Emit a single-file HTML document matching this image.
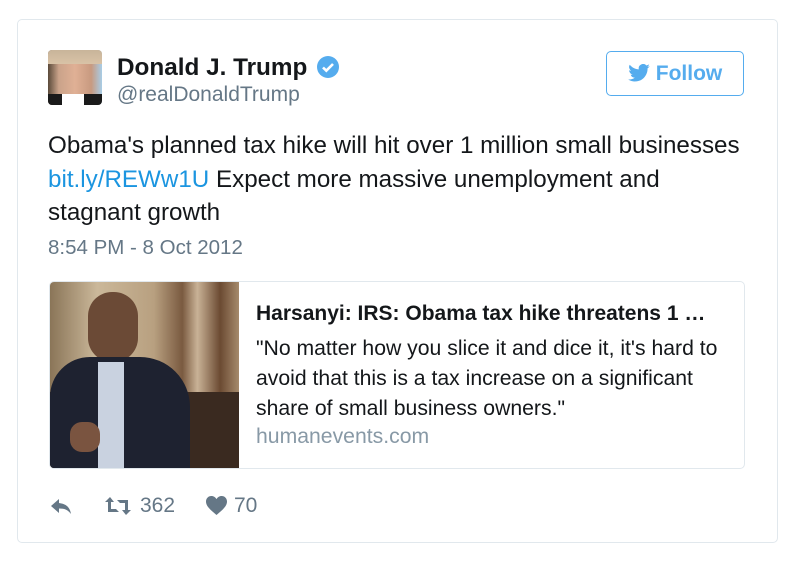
<!DOCTYPE html>
<html><head><meta charset="utf-8"><style>
body{margin:0;width:799px;height:567px;background:#fff;font-family:"Liberation Sans",sans-serif;position:relative;overflow:hidden}
.a{position:absolute;white-space:nowrap}
</style></head><body>
<div class="a" style="left:17px;top:19px;width:759px;height:522px;border:1px solid #e1e8ed;border-radius:5px"></div>
<div class="a" style="left:48px;top:50px;width:54px;height:55px;border-radius:4px;overflow:hidden;background:linear-gradient(90deg,#5a4a3a 0%,#caa38a 20%,#e0b095 50%,#c89a80 80%,#a9cde6 100%)">
<div style="position:absolute;left:0;top:0;width:54px;height:14px;background:linear-gradient(#c8b49a,#d9c2a6)"></div>
<div style="position:absolute;left:0;top:44px;width:54px;height:11px;background:#1a1a1a"></div>
<div style="position:absolute;left:14px;top:44px;width:22px;height:11px;background:#fff"></div>
</div>
<div class="a" style="left:117px;top:54px;font-size:24.3px;font-weight:bold;color:#14171a">Donald J. Trump</div>
<svg class="a" style="left:316px;top:55px" width="24" height="24" viewBox="0 0 24 24"><circle cx="12" cy="12" r="11" fill="#55acee"/><path d="M7 12.5l3.3 3.2L17 9" stroke="#fff" stroke-width="2.6" fill="none"/></svg>
<div class="a" style="left:117px;top:83px;font-size:21px;color:#657786">@realDonaldTrump</div>
<div class="a" style="left:606px;top:51px;width:138px;height:45px;box-sizing:border-box;border:1px solid #55acee;border-radius:5px;color:#55acee;font-size:21px;font-weight:bold;line-height:43px;text-align:center"><svg width="22" height="18" viewBox="0 0 24 20" style="vertical-align:-2px;margin-right:6px"><path d="M24 2.4a10 10 0 0 1-2.8.8A5 5 0 0 0 23.3.4a10 10 0 0 1-3.1 1.2A4.9 4.9 0 0 0 11.8 6 14 14 0 0 1 1.7.9a4.9 4.9 0 0 0 1.5 6.6 5 5 0 0 1-2.2-.6 4.9 4.9 0 0 0 3.9 4.8 5 5 0 0 1-2.2.1 4.9 4.9 0 0 0 4.6 3.4A9.9 9.9 0 0 1 0 17.2 14 14 0 0 0 7.5 19.4c9.1 0 14-7.5 14-14v-.6A10 10 0 0 0 24 2.4z" fill="#55acee"/></svg>Follow</div>
<div class="a" style="left:48px;top:129px;font-size:24.2px;line-height:33.5px;color:#14171a">Obama's planned tax hike will hit over 1 million small businesses<br><span style="color:#1b95e0">bit.ly/REWw1U</span> Expect more massive unemployment and<br>stagnant growth</div>
<div class="a" style="left:48px;top:236px;font-size:20.5px;color:#657786">8:54 PM - 8 Oct 2012</div>
<div class="a" style="left:49px;top:281px;width:696px;height:188px;box-sizing:border-box;border:1px solid #e1e8ed;border-radius:5px;overflow:hidden">
<div style="position:absolute;left:0;top:0;width:189px;height:188px;background:linear-gradient(90deg,#8a7558 0%,#cbb89a 25%,#b8a080 55%,#7a5a40 70%,#c9b296 78%,#6b4a32 90%,#a58a6c 100%)">
<div style="position:absolute;left:0;top:110px;width:189px;height:78px;background:#3a2a20"></div>
<div style="position:absolute;left:38px;top:10px;width:50px;height:70px;border-radius:24px;background:#6b4a36"></div>
<div style="position:absolute;left:0;top:75px;width:140px;height:113px;border-radius:40px 50px 0 0;background:#1e2230"></div>
<div style="position:absolute;left:48px;top:80px;width:26px;height:108px;background:#c9d2e0"></div>
<div style="position:absolute;left:20px;top:140px;width:30px;height:30px;border-radius:12px;background:#7a5440"></div>
</div>
<div class="a" style="left:206px;top:20px;font-size:21px;font-weight:bold;color:#14171a">Harsanyi: IRS: Obama tax hike threatens 1 …</div>
<div class="a" style="left:206px;top:52px;font-size:21.2px;line-height:30px;color:#14171a">"No matter how you slice it and dice it, it's hard to<br>avoid that this is a tax increase on a significant<br>share of small business owners."</div>
<div class="a" style="left:206px;top:143px;font-size:21.2px;color:#8899a6">humanevents.com</div>
</div>
<svg class="a" style="left:50px;top:497px" width="24" height="20" viewBox="0 0 24 20"><path d="M9 2L1 9l8 7v-4.5c6 0 9 1.5 12 5.5-1-6-4-10-12-11z" fill="#657786"/></svg>
<svg class="a" style="left:104px;top:496px" width="28" height="20" viewBox="0 0 28 20"><path d="M6 1L1 6h3v10h11l-3-3H7V6h3zM22 19l5-5h-3V4H13l3 3h5v7h-3z" fill="#657786"/></svg>
<div class="a" style="left:140px;top:494px;font-size:21px;color:#657786">362</div>
<svg class="a" style="left:205px;top:495px" width="23" height="21" viewBox="0 0 24 22"><path d="M12 21C5 15 1 11.5 1 6.8 1 3.5 3.5 1 6.6 1 9 1 11 2.4 12 4.3 13 2.4 15 1 17.4 1 20.5 1 23 3.5 23 6.8 23 11.5 19 15 12 21z" fill="#657786"/></svg>
<div class="a" style="left:234px;top:494px;font-size:21px;color:#657786">70</div>
</body></html>
